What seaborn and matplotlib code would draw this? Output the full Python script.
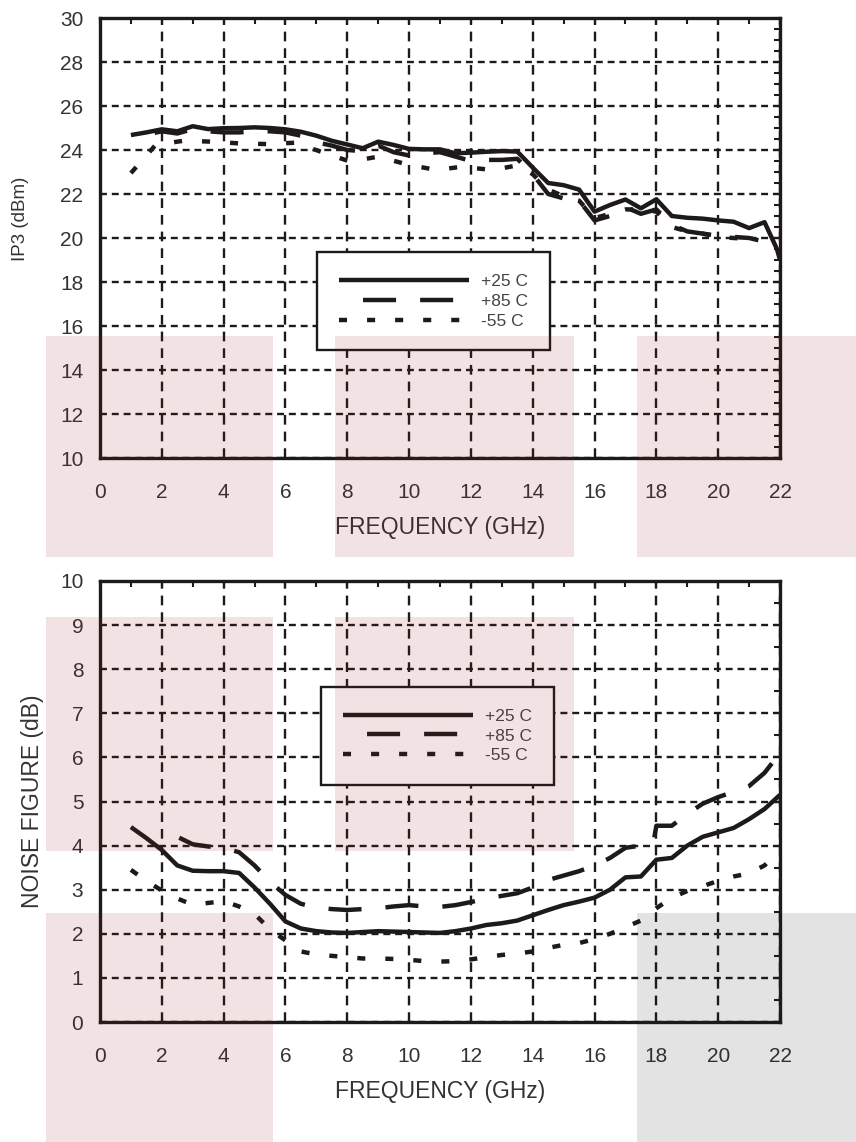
import matplotlib
matplotlib.use("Agg")
import matplotlib.pyplot as plt
from matplotlib.patches import Rectangle
from matplotlib.ticker import MultipleLocator
import seaborn as sns

# ---------------- IP3 versus frequency ----------------
ip3_freq_25 = [1.0, 1.5, 2.0, 2.5, 3.0, 3.5, 4.0, 4.5, 5.0, 5.5, 6.0, 6.5, 7.0, 7.5,
               8.0, 8.5, 9.0, 9.5, 10.0, 10.5, 11.0, 11.5, 12.0, 12.5, 13.0, 13.5,
               14.0, 14.5, 15.0, 15.5, 16.0, 16.5, 17.0, 17.5, 18.0, 18.5, 19.0,
               19.5, 20.0, 20.5, 21.0, 21.5, 21.9, 22.0]
ip3_25 = [24.68, 24.8, 24.94, 24.85, 25.08, 24.95, 24.99, 25.0, 25.03, 25.0, 24.94,
          24.83, 24.65, 24.42, 24.25, 24.08, 24.38, 24.23, 24.05, 24.03, 24.03, 23.85,
          23.88, 23.92, 23.95, 23.93, 23.2, 22.5, 22.4, 22.2, 21.2, 21.5, 21.75,
          21.35, 21.76, 21.0, 20.92, 20.88, 20.8, 20.74, 20.45, 20.72, 19.5, 19.0]

ip3_freq_85 = [1.0, 1.5, 2.0, 2.5, 3.0, 3.5, 4.0, 4.5, 5.0, 5.5, 6.0, 6.5, 7.0, 7.5,
               8.0, 8.5, 9.0, 9.5, 10.0, 10.5, 11.0, 11.5, 12.0, 12.5, 13.0, 13.5,
               14.0, 14.5, 15.0, 15.5, 16.0, 16.5, 17.0, 17.5, 18.0, 18.5, 19.0,
               19.5, 20.0, 20.5, 21.0, 21.3]
ip3_85 = [24.6, 24.7, 24.85, 24.75, 24.95, 24.85, 24.8, 24.8, 24.85, 24.85, 24.8,
          24.65, 24.35, 24.2, 24.0, 23.95, 24.2, 23.9, 23.75, 23.85, 23.9, 23.7,
          23.5, 23.55, 23.55, 23.6, 22.9, 22.0, 21.8, 21.7, 20.8, 21.0, 21.4,
          21.1, 21.3, 20.6, 20.3, 20.2, 20.1, 20.05, 20.0, 19.9]

ip3_freq_m55 = [1.0, 1.8, 2.7, 3.6, 4.5, 5.4, 6.3, 7.3, 8.1, 9.0, 10.0, 10.9, 11.7,
                12.7, 13.5, 14.0, 14.5, 15.0, 15.5, 16.0, 16.5, 17.0, 17.5, 18.0,
                18.5, 19.0, 19.5, 20.0, 20.5, 21.0]
ip3_m55 = [22.95, 24.23, 24.42, 24.38, 24.3, 24.27, 24.33, 23.85, 23.47, 23.7, 23.32,
           23.09, 23.24, 23.09, 23.3, 22.9, 22.2, 21.9, 21.7, 20.9, 21.1, 21.3,
           21.3, 21.2, 20.5, 20.3, 20.2, 20.05, 20.0, 19.95]

# ---------------- Noise figure versus frequency ----------------
nf_freq_25 = [1.0, 1.5, 2.0, 2.5, 3.0, 3.5, 4.0, 4.5, 5.0, 5.5, 6.0, 6.5, 7.0, 7.5,
              8.0, 8.5, 9.0, 9.5, 10.0, 10.5, 11.0, 11.5, 12.0, 12.5, 13.0, 13.5,
              14.0, 14.5, 15.0, 15.5, 16.0, 16.5, 17.0, 17.5, 18.0, 18.5, 19.0,
              19.5, 20.0, 20.5, 21.0, 21.5, 22.0]
nf_25 = [4.42, 4.17, 3.9, 3.55, 3.43, 3.42, 3.42, 3.38, 3.05, 2.68, 2.28, 2.12, 2.06,
         2.03, 2.02, 2.04, 2.06, 2.05, 2.04, 2.03, 2.02, 2.06, 2.12, 2.2, 2.24, 2.3,
         2.42, 2.54, 2.65, 2.73, 2.82, 3.0, 3.28, 3.3, 3.68, 3.72, 4.0, 4.2, 4.3,
         4.4, 4.6, 4.83, 5.15]

nf_freq_85 = [2.0, 2.5, 3.0, 3.5, 4.0, 4.5, 5.0, 5.5, 6.0, 6.5, 7.0, 7.5, 8.0, 8.5,
              9.0, 9.5, 10.0, 10.5, 11.0, 11.5, 12.0, 12.5, 13.0, 13.5, 14.0, 14.5,
              15.0, 15.5, 16.0, 16.5, 17.0, 17.5, 17.9, 18.0, 18.5, 19.0, 19.5,
              20.0, 20.5, 21.0, 21.5, 22.0]
nf_85 = [4.55, 4.2, 4.03, 3.98, 3.95, 3.85, 3.55, 3.18, 2.88, 2.68, 2.6, 2.56, 2.54,
         2.56, 2.58, 2.62, 2.65, 2.62, 2.61, 2.65, 2.72, 2.8, 2.86, 2.92, 3.05, 3.22,
         3.32, 3.42, 3.55, 3.72, 3.95, 4.0, 4.05, 4.45, 4.45, 4.72, 4.95, 5.1,
         5.22, 5.35, 5.65, 6.1]

nf_freq_m55 = [1.0, 1.5, 2.0, 2.5, 3.0, 3.5, 4.0, 4.5, 5.0, 5.5, 6.0, 6.5, 7.0, 7.5,
               8.0, 8.5, 9.0, 9.5, 10.0, 10.5, 11.0, 11.5, 12.0, 12.5, 13.0, 13.5,
               14.0, 14.5, 15.0, 15.5, 16.0, 16.5, 17.0, 17.5, 18.0, 18.5, 19.0,
               19.5, 20.0, 20.5, 21.0, 21.5, 22.0]
nf_m55 = [3.45, 3.2, 2.98, 2.8, 2.66, 2.7, 2.74, 2.62, 2.45, 2.1, 1.85, 1.6, 1.53,
          1.5, 1.47, 1.44, 1.44, 1.43, 1.41, 1.38, 1.37, 1.38, 1.42, 1.47, 1.52,
          1.55, 1.6, 1.68, 1.75, 1.79, 1.88, 2.0, 2.15, 2.3, 2.58, 2.82, 2.97,
          3.08, 3.2, 3.3, 3.37, 3.55, 3.9]

series_labels = ["+25 C", "+85 C", "-55 C"]
x_ticks = [0, 2, 4, 6, 8, 10, 12, 14, 16, 18, 20, 22]

# ---------------- styling ----------------
sns.set_theme(style="white")
plt.rcParams["font.family"] = ["Liberation Sans", "DejaVu Sans"]
plt.rcParams["lines.scale_dashes"] = False

INK = "#1e1a1a"
TEXT = "#333333"
SOLID = "-"
DASHED = (23.8, (23.8, 17.3))
DOTTED = (0, (5.8, 14.4))
LINE_W = 3.2

W, H = 856, 1142
fig = plt.figure(figsize=(W / 100, H / 100), dpi=100)
fig.patch.set_facecolor("white")


def px_box(x0, y0, x1, y1):
    """Pixel rectangle (top-left origin) to figure-fraction [l, b, w, h]."""
    return [x0 / W, 1 - y1 / H, (x1 - x0) / W, (y1 - y0) / H]


ax_top = fig.add_axes(px_box(100, 18, 780, 458))
ax_bot = fig.add_axes(px_box(100, 581, 780, 1022))


def style_axes(ax, ylim, ymajor, yminor):
    ax.set_xlim(0, 22)
    ax.set_ylim(*ylim)
    ax.xaxis.set_major_locator(MultipleLocator(2))
    ax.xaxis.set_minor_locator(MultipleLocator(1))
    ax.yaxis.set_major_locator(MultipleLocator(ymajor))
    ax.yaxis.set_minor_locator(MultipleLocator(yminor))
    ax.set_xticks(x_ticks)
    ax.set_axisbelow(True)
    ax.grid(True, axis="x", which="major", color=INK, linewidth=1.7,
            linestyle=(0, (7, 5)))
    ax.grid(True, axis="y", which="major", color=INK, linewidth=1.7,
            linestyle=(0, (5, 3.5)))
    ax.tick_params(which="both", direction="in", top=True, right=True,
                   color=INK, width=1.5)
    ax.tick_params(which="major", length=5)
    ax.tick_params(which="minor", length=4)
    ax.tick_params(axis="x", which="major", pad=18, labelsize=15,
                   labelcolor=TEXT)
    ax.tick_params(axis="y", which="major", pad=12, labelsize=15,
                   labelcolor=TEXT)
    for sp in ax.spines.values():
        sp.set_visible(True)
        sp.set_color(INK)
        sp.set_linewidth(2.4)
    ax.set_xlabel("FREQUENCY (GHz)", fontsize=16.5, color=TEXT, labelpad=10)


def draw_series(ax, curves):
    for (fx, fy), ls, lab in zip(curves, [SOLID, DASHED, DOTTED], series_labels):
        sns.lineplot(x=fx, y=fy, ax=ax, color=INK, linewidth=LINE_W,
                     linestyle=ls, label=lab, sort=False, estimator=None,
                     solid_capstyle="butt", dash_capstyle="butt")


def add_legend(ax, anchor):
    leg = ax.legend(loc="upper left", bbox_to_anchor=anchor, borderaxespad=0,
                    frameon=True, fancybox=False, edgecolor=INK,
                    facecolor="white", framealpha=1, fontsize=12.5,
                    handlelength=7.5, handletextpad=0.7, borderpad=1.25,
                    labelspacing=0.27)
    leg.get_frame().set_linewidth(1.7)
    for t in leg.get_texts():
        t.set_color("#444444")
    leg.set_zorder(5)


# IP3 panel
style_axes(ax_top, (10, 30), 2, 0.5)
draw_series(ax_top, [(ip3_freq_25, ip3_25), (ip3_freq_85, ip3_85),
                     (ip3_freq_m55, ip3_m55)])
ax_top.set_ylabel("IP3 (dBm)", fontsize=13.5, color=TEXT)
ax_top.yaxis.set_label_coords(-0.105, 0.543)
add_legend(ax_top, (0.319, 0.468))

# Noise figure panel
style_axes(ax_bot, (0, 10), 1, 0.5)
draw_series(ax_bot, [(nf_freq_25, nf_25), (nf_freq_85, nf_85),
                     (nf_freq_m55, nf_m55)])
ax_bot.set_ylabel("NOISE FIGURE (dB)", fontsize=16.5, color=TEXT)
ax_bot.yaxis.set_label_coords(-0.082, 0.5)
add_legend(ax_bot, (0.325, 0.76))

# Tinted background blocks laid over the page
PINK = (147 / 255, 30 / 255, 30 / 255)
GREY = (30 / 255, 30 / 255, 30 / 255)
blocks = [
    (46, 336, 273, 557, PINK), (335, 336, 574, 557, PINK), (637, 336, 856, 557, PINK),
    (46, 617, 273, 851, PINK), (335, 617, 574, 851, PINK),
    (46, 913, 273, 1142, PINK), (637, 913, 856, 1142, GREY),
]
for x0, y0, x1, y1, col in blocks:
    l, b, w, h = px_box(x0, y0, x1, y1)
    fig.add_artist(Rectangle((l, b), w, h, transform=fig.transFigure,
                             facecolor=col, edgecolor="none", alpha=0.12,
                             zorder=20))

fig.savefig("out.png", dpi=100)
